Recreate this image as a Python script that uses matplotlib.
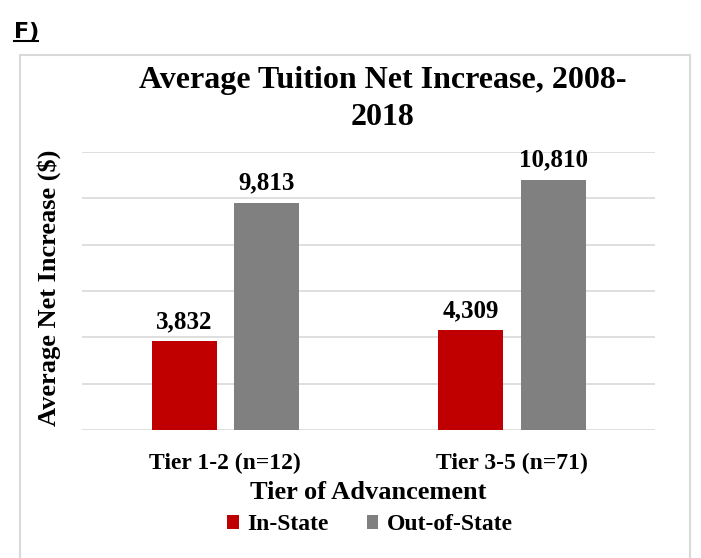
#!/usr/bin/env python3
# -*- coding: utf-8 -*-

import matplotlib
matplotlib.use('Agg')
import matplotlib.pyplot as plt
from matplotlib.patches import Rectangle
import numpy as np

categories = ['Tier 1-2 (n=12)', 'Tier 3-5 (n=71)']
in_state = [3832, 4309]
out_state = [9813, 10810]
series_names = ['In-State', 'Out-of-State']

SERIF = ['Liberation Serif', 'DejaVu Serif']

fig = plt.figure(figsize=(7.01, 5.58), dpi=100)

# outer chart frame
fig.patches.append(Rectangle((20 / 701, -0.01), 670 / 701, 1 - 55 / 558 + 0.01,
                             transform=fig.transFigure, fill=False,
                             edgecolor='#D9D9D9', linewidth=1.5))

fig.text(14 / 701, 1 - 38 / 558, 'F)', fontsize=16, fontweight='bold',
         family='DejaVu Sans')
fig.add_artist(plt.Line2D([14 / 701, 38 / 701], [1 - 41 / 558, 1 - 41 / 558],
                          color='black', linewidth=1.5, transform=fig.transFigure))

ax = fig.add_axes([82 / 701, 1 - 430 / 558, 573 / 701, 278 / 558])
x = np.arange(len(categories))
w = 0.227
b1 = ax.bar(x - 0.143, in_state, w, color='#C00000', label=series_names[0], zorder=3)
b2 = ax.bar(x + 0.145, out_state, w, color='#808080', label=series_names[1], zorder=3)

ax.set_xlim(-0.5, 1.5)
ax.set_ylim(0, 12000)
ax.set_yticks(np.arange(0, 12001, 2000))
ax.set_yticklabels([])
ax.tick_params(left=False, bottom=False, pad=13)
ax.grid(axis='y', color='#D9D9D9', linewidth=1.2, zorder=0)
for s in ax.spines.values():
    s.set_visible(False)

ax.set_xticks(x)
ax.set_xticklabels(categories, fontsize=17, fontweight='bold', family=SERIF)

for bars in (b1, b2):
    for r in bars:
        ax.annotate(f'{int(r.get_height()):,}', (r.get_x() + r.get_width() / 2, r.get_height()),
                    xytext=(0, 6), textcoords='offset points', ha='center', va='bottom',
                    fontsize=18, fontweight='bold', family=SERIF)

fig.text(49 / 701, 1 - 288 / 558, 'Average Net Increase ($)', rotation=90, ha='center',
         va='center', fontsize=19, fontweight='bold', family=SERIF)
ax.set_xlabel('Tier of Advancement', fontsize=19, fontweight='bold', family=SERIF, labelpad=5)

fig.text(383 / 701, 1 - 99 / 558, 'Average Tuition Net Increase, 2008-\n2018', ha='center',
         va='center', fontsize=23, fontweight='bold', family=SERIF, linespacing=1.32)

fig.legend(handles=[b1, b2], loc='center', bbox_to_anchor=(370 / 701, 1 - 525 / 558),
           ncol=2, frameon=False, prop={'family': SERIF, 'weight': 'bold', 'size': 17},
           handlelength=0.5, handleheight=0.5, handletextpad=0.35, columnspacing=1.6)

fig.savefig('out.png', dpi=100)
